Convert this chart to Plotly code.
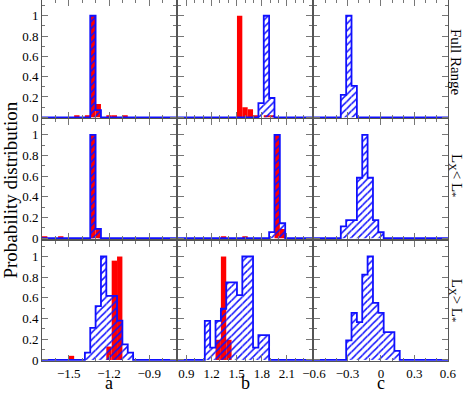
import plotly.graph_objects as go

# ---------------- data ----------------
COLUMNS = ["a", "b", "c"]
ROW_LABELS = ["Full Range", "L<sub>X</sub>&lt; L<sub>*</sub>", "L<sub>X</sub>&gt; L<sub>*</sub>"]
X_RANGES = {"a": [-1.7, -0.7], "b": [0.8, 2.4], "c": [-0.6, 0.6]}
X_TICKS = {"a": [-1.5, -1.2, -0.9], "b": [0.9, 1.2, 1.5, 1.8, 2.1], "c": [-0.6, -0.3, 0, 0.3, 0.6]}
Y_TICKS = [0, 0.2, 0.4, 0.6, 0.8, 1]
N_BINS = 25

# Full range (bin left edges and heights)
full_a_red_bins = [-1.46, -1.38, -1.34, -1.30, -1.22, -1.18, -1.10]
full_a_red_vals = [0.02, 0.02, 1.0, 0.13, 0.02, 0.02, 0.02]
full_a_blue_bins = [-1.34, -1.30]
full_a_blue_vals = [1.0, 0.07]

full_b_red_bins = [1.504, 1.568, 1.632, 1.696, 1.824, 1.888]
full_b_red_vals = [1.0, 0.10, 0.08, 0.02, 0.02, 0.02]
full_b_blue_bins = [1.760, 1.824, 1.888]
full_b_blue_vals = [0.14, 1.0, 0.19]

full_c_blue_bins = [-0.360, -0.312, -0.264]
full_c_blue_vals = [0.22, 1.0, 0.31]

# Lx < L*
low_a_red_bins = [-1.70, -1.58, -1.34, -1.30]
low_a_red_vals = [0.02, 0.02, 1.0, 0.09]
low_a_blue_bins = [-1.34, -1.30]
low_a_blue_vals = [1.0, 0.09]

low_b_red_bins = [1.312, 1.568, 1.952, 2.016]
low_b_red_vals = [0.015, 0.015, 1.0, 0.09]
low_b_blue_bins = [1.888, 1.952, 2.016]
low_b_blue_vals = [0.06, 1.0, 0.145]

low_c_blue_bins = [-0.360, -0.312, -0.264, -0.216, -0.168, -0.120, -0.072, -0.024]
low_c_blue_vals = [0.115, 0.176, 0.176, 0.585, 1.0, 0.585, 0.176, 0.058]

# Lx > L*
high_a_red_bins = [-1.50, -1.22, -1.18, -1.14]
high_a_red_vals = [0.04, 0.13, 0.96, 1.0]
high_a_blue_bins = [-1.38, -1.34, -1.30, -1.26, -1.22, -1.18, -1.14, -1.10, -1.06]
high_a_blue_vals = [0.07, 0.31, 0.52, 1.0, 0.62, 0.62, 0.38, 0.15, 0.07]

high_b_red_bins = [1.248, 1.312, 1.376]
high_b_red_vals = [0.195, 1.0, 0.195]
high_b_blue_bins = [1.120, 1.184, 1.248, 1.312, 1.376, 1.440, 1.504, 1.568, 1.632, 1.696, 1.760, 1.824]
high_b_blue_vals = [0.377, 0.12, 0.377, 0.495, 0.75, 0.75, 0.626, 1.0, 1.0, 0.12, 0.24, 0.24]

high_c_blue_bins = [-0.312, -0.264, -0.216, -0.168, -0.120, -0.072, -0.024, 0.024, 0.072, 0.120]
high_c_blue_vals = [0.19, 0.455, 0.366, 0.825, 1.0, 0.552, 0.455, 0.27, 0.27, 0.088]

PANELS = [
    [(full_a_red_bins, full_a_red_vals, full_a_blue_bins, full_a_blue_vals),
     (full_b_red_bins, full_b_red_vals, full_b_blue_bins, full_b_blue_vals),
     ([], [], full_c_blue_bins, full_c_blue_vals)],
    [(low_a_red_bins, low_a_red_vals, low_a_blue_bins, low_a_blue_vals),
     (low_b_red_bins, low_b_red_vals, low_b_blue_bins, low_b_blue_vals),
     ([], [], low_c_blue_bins, low_c_blue_vals)],
    [(high_a_red_bins, high_a_red_vals, high_a_blue_bins, high_a_blue_vals),
     (high_b_red_bins, high_b_red_vals, high_b_blue_bins, high_b_blue_vals),
     ([], [], high_c_blue_bins, high_c_blue_vals)],
]

# ---------------- style ----------------
FONT = "Liberation Serif"
RED = "#ff0000"
BLUE = "#1010ff"
AXIS_COLOR = "#555555"
TICK_COLOR = "#777777"

COL_DOMAINS = [[0.0, 0.33005], [0.33498, 0.66502], [0.66995, 1.0]]
ROW_DOMAINS = [[0.6723, 1.0], [0.3371, 0.6695], [0.0, 0.3324]]
ROW_YRANGES = [[-0.01, 1.155], [-0.01, 1.15], [-0.01, 1.15]]

fig = go.Figure()
layout = {}

for r in range(3):
    for ci, col in enumerate(COLUMNS):
        n = r * 3 + ci + 1
        xa = "x" if n == 1 else f"x{n}"
        ya = "y" if n == 1 else f"y{n}"
        lo, hi = X_RANGES[col]
        w = (hi - lo) / N_BINS
        red_bins, red_vals, blue_bins, blue_vals = PANELS[r][ci]

        if red_bins:
            fig.add_trace(go.Bar(
                x=red_bins, y=red_vals, width=w, offset=0,
                marker=dict(color=RED, line=dict(width=0)),
                xaxis=xa, yaxis=ya, showlegend=False, hoverinfo="skip"))
        fig.add_trace(go.Bar(
            x=blue_bins, y=blue_vals, width=w, offset=0,
            marker=dict(color="rgba(0,0,0,0)", line=dict(width=0),
                        pattern=dict(shape="/", fgcolor=BLUE, bgcolor="rgba(0,0,0,0)",
                                     fgopacity=1, size=5, solidity=0.3, fillmode="overlay")),
            xaxis=xa, yaxis=ya, showlegend=False, hoverinfo="skip"))

        # step outline of the blue histogram over the full range
        heights = [0.0] * N_BINS
        for b, v in zip(blue_bins, blue_vals):
            heights[int(round((b - lo) / w))] = v
        edges = [lo + k * w for k in range(N_BINS + 1)]
        fig.add_trace(go.Scatter(
            x=edges, y=heights + [0.0], mode="lines", line=dict(color=BLUE, width=1.8, shape="hv"),
            xaxis=xa, yaxis=ya, showlegend=False, hoverinfo="skip"))

        common = dict(showline=True, mirror="ticks", linecolor=AXIS_COLOR, linewidth=1,
                      ticks="inside", ticklen=6, tickwidth=1, tickcolor=TICK_COLOR,
                      showgrid=False, zeroline=False, fixedrange=True,
                      tickfont=dict(family=FONT, size=13, color="black"))
        layout["xaxis" if n == 1 else f"xaxis{n}"] = dict(
            domain=COL_DOMAINS[ci], range=[lo, hi], anchor=ya,
            tickmode="array", tickvals=X_TICKS[col], showticklabels=(r == 2),
            minor=dict(ticks="inside", ticklen=3, tickcolor=TICK_COLOR, tickmode="linear",
                       tick0=lo, dtick=0.1, showgrid=False),
            **common)
        layout["yaxis" if n == 1 else f"yaxis{n}"] = dict(
            domain=ROW_DOMAINS[r], range=ROW_YRANGES[r], anchor=xa,
            tickmode="array", tickvals=Y_TICKS, showticklabels=(ci == 0),
            minor=dict(ticks="inside", ticklen=3, tickcolor=TICK_COLOR, tickmode="linear",
                       tick0=0, dtick=0.1, showgrid=False),
            **common)

annotations = []
annotations.append(dict(text="Probability distribution", x=-0.077, y=0.474, xref="paper", yref="paper",
                        textangle=-90, showarrow=False, xanchor="center", yanchor="middle",
                        font=dict(family=FONT, size=19, color="black")))
for ci, col in enumerate(COLUMNS):
    annotations.append(dict(text=col, x=sum(COL_DOMAINS[ci]) / 2, y=-0.0914, xref="paper", yref="paper",
                            showarrow=False, xanchor="center", yanchor="bottom", borderpad=0,
                            font=dict(family=FONT, size=18, color="black")))
ROW_LABEL_Y = [0.828, 0.515, 0.169]
for r in range(3):
    annotations.append(dict(text=ROW_LABELS[r], x=1.02, y=ROW_LABEL_Y[r], xref="paper", yref="paper",
                            textangle=90, showarrow=False, xanchor="center", yanchor="middle",
                            font=dict(family=FONT, size=15, color="black")))

fig.update_layout(
    width=463, height=395,
    margin=dict(l=42, r=15, t=0, b=34),
    paper_bgcolor="white", plot_bgcolor="white",
    barmode="overlay", showlegend=False,
    annotations=annotations,
    **layout,
)

fig.write_html("out.html", config={"displayModeBar": False},
               post_script="document.body.style.margin='0px';document.body.style.padding='0px';")
